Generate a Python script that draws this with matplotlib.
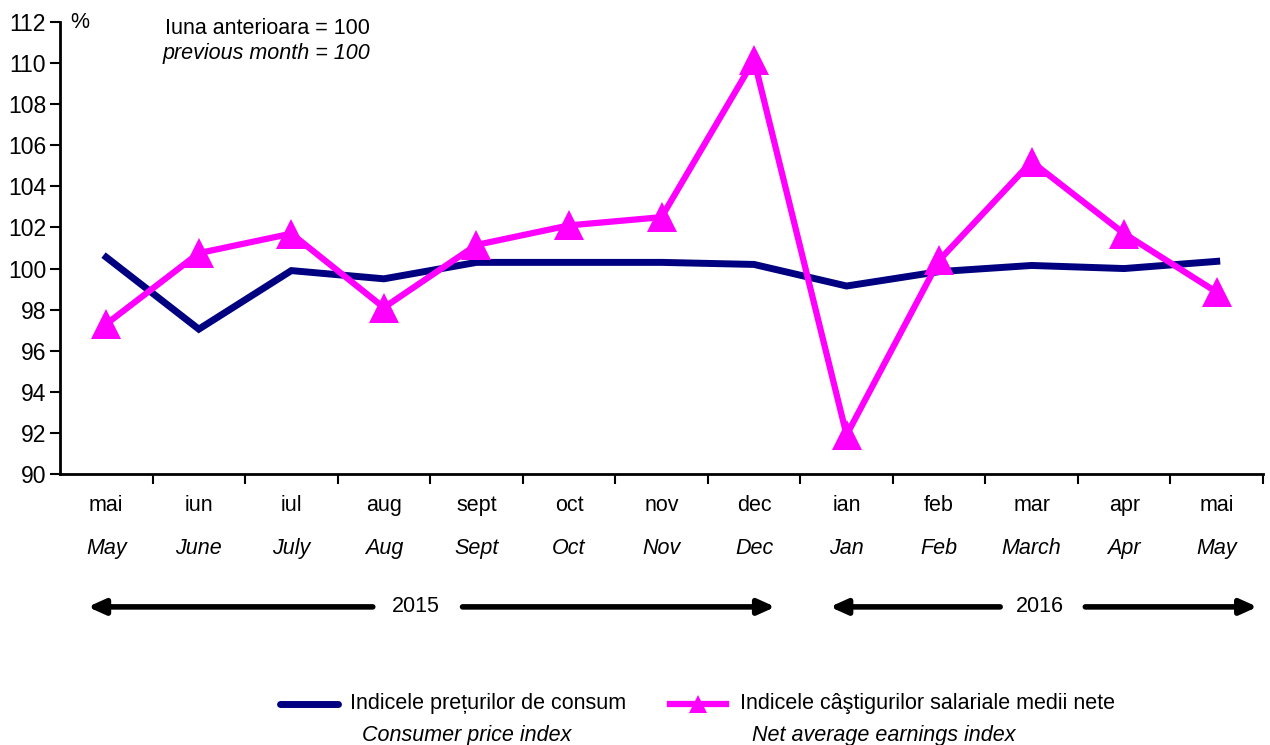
import matplotlib
matplotlib.use("Agg")
import matplotlib.pyplot as plt
import matplotlib.transforms as mtransforms
from matplotlib.lines import Line2D

plt.rcParams['font.family'] = ['Liberation Sans', 'DejaVu Sans']

months_ro = ["mai", "iun", "iul", "aug", "sept", "oct", "nov", "dec",
             "ian", "feb", "mar", "apr", "mai"]
months_en = ["May", "June", "July", "Aug", "Sept", "Oct", "Nov", "Dec",
             "Jan", "Feb", "March", "Apr", "May"]
cpi = [100.55, 97.05, 99.9, 99.5, 100.3, 100.3, 100.3, 100.2,
       99.15, 99.85, 100.15, 100.0, 100.35]
earnings = [97.3, 100.75, 101.7, 98.1, 101.15, 102.1, 102.5, 110.15,
            91.9, 100.4, 105.2, 101.7, 98.85]
yticks = list(range(90, 113, 2))
years = ["2015", "2016"]

NAVY = "#000080"
MAG = "#FF00FF"
FS = 15.5

fig = plt.figure(figsize=(12.7, 7.45), dpi=100)
ax = fig.add_axes([60/1270, 1-474/745, 1203/1270, 452/745])

x = list(range(len(months_ro)))
ax.plot(x, cpi, color=NAVY, lw=5, solid_joinstyle='miter', zorder=3)
ax.plot(x, earnings, color=MAG, lw=4.5, marker='^', ms=21,
        markeredgewidth=0, zorder=4)

ax.set_xlim(-0.5, len(x) - 0.5)
ax.set_ylim(90, 112)
ax.set_yticks(yticks)
ax.set_yticklabels([str(v) for v in yticks], fontsize=16.5)
ax.tick_params(axis='y', length=7, width=1.5, direction='out', pad=3)
ax.set_xticks([i + 0.5 for i in range(len(x))])
ax.set_xticklabels([])
ax.tick_params(axis='x', length=7, width=1.5, direction='out')
for s in ['top', 'right']:
    ax.spines[s].set_visible(False)
for s in ['left', 'bottom']:
    ax.spines[s].set_linewidth(2)

tr = mtransforms.blended_transform_factory(ax.transData, ax.transAxes)
for i in x:
    ax.text(i, -0.0686, months_ro[i], transform=tr, ha='center', va='center',
            fontsize=FS, clip_on=False)
    ax.text(i, -0.164, months_en[i], transform=tr, ha='center', va='center',
            fontsize=FS, style='italic', clip_on=False)

# year arrows
yy = -0.294
arrow_kw = dict(arrowstyle='-|>,head_length=1.0,head_width=0.45', lw=4,
                color='black', shrinkA=0, shrinkB=0)
for (txt_x, left_end, left_start, right_start, right_end), label in zip(
        [(3.34, -0.2, 2.88, 3.85, 7.23), (10.09, 7.82, 9.66, 10.58, 12.44)], years):
    ax.text(txt_x, yy, label, transform=tr, ha='center', va='center', fontsize=FS)
    ax.annotate('', xy=(left_end, yy), xytext=(left_start, yy), xycoords=tr,
                textcoords=tr, arrowprops=arrow_kw, annotation_clip=False)
    ax.annotate('', xy=(right_end, yy), xytext=(right_start, yy), xycoords=tr,
                textcoords=tr, arrowprops=arrow_kw, annotation_clip=False)

# annotations
fig.text(80/1270, 1-22/745, "%", fontsize=FS, ha='center', va='center')
fig.text(370/1270, 1-28/745, "Iuna anterioara = 100", fontsize=FS,
         ha='right', va='center')
fig.text(370/1270, 1-54/745, "previous month = 100", fontsize=FS,
         ha='right', va='center', style='italic')

# legend
ly = 1 - 704/745
fig.add_artist(Line2D([280/1270, 338/1270], [ly, ly], color=NAVY, lw=5,
                      solid_capstyle='round', transform=fig.transFigure))
fig.add_artist(Line2D([670/1270, 726/1270], [ly, ly], color=MAG, lw=4.5,
                      transform=fig.transFigure))
fig.add_artist(Line2D([698/1270], [ly], color=MAG, marker='^', ms=13,
                      markeredgewidth=0, transform=fig.transFigure))
fig.text(350/1270, ly, "Indicele prețurilor de consum", fontsize=FS,
         ha='left', va='center')
fig.text(362/1270, 1-735/745, "Consumer price index", fontsize=FS,
         ha='left', va='center', style='italic')
fig.text(740/1270, ly, "Indicele câştigurilor salariale medii nete", fontsize=FS,
         ha='left', va='center')
fig.text(752/1270, 1-735/745, "Net average earnings index", fontsize=FS,
         ha='left', va='center', style='italic')

fig.savefig("out.png", dpi=100)
